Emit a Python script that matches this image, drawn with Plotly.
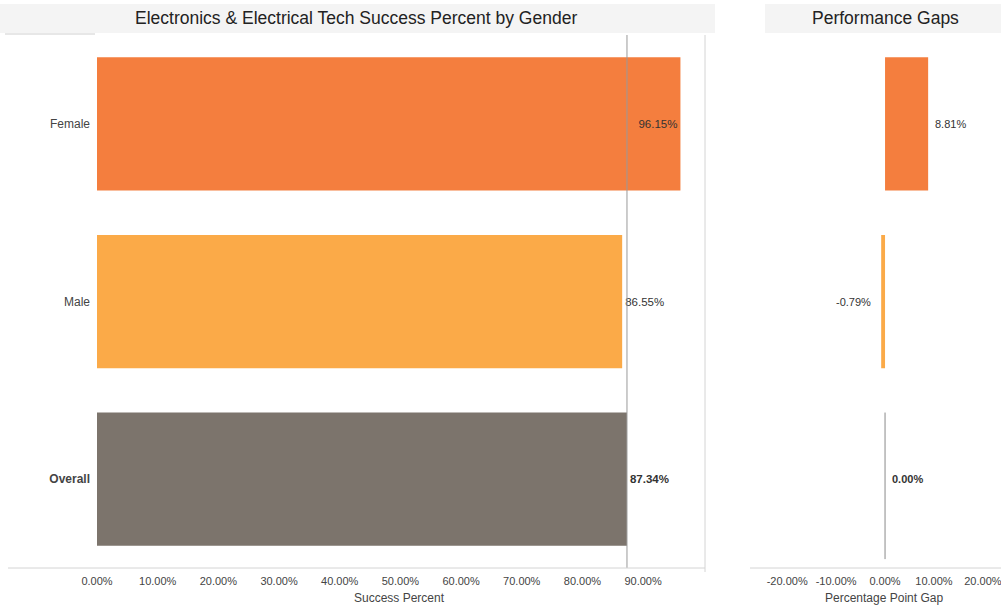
import plotly.graph_objects as go

# Success percent by gender (Electronics & Electrical Tech)
groups = ["Female", "Male", "Overall"]
success_pct = [96.15, 86.55, 87.34]
gap_pct = [8.81, -0.79, 0.00]
bar_colors = ["#F47E3E", "#FBAA48", "#7C746C"]

left_ticks = [0, 10, 20, 30, 40, 50, 60, 70, 80, 90]
right_ticks = [-20, -10, 0, 10, 20]

FONT = "Arial, Liberation Sans, sans-serif"
W, H = 1001, 607


def px(x):
    return x / W


def py(y):
    return 1 - y / H


def fmt(v):
    return f"{v:.2f}%"


def label(g, v):
    return f"<b>{fmt(v)}</b>" if g == "Overall" else fmt(v)


fig = go.Figure()

# Main bars: success percent
fig.add_trace(go.Bar(
    x=success_pct, y=groups, orientation="h",
    marker=dict(color=bar_colors, line=dict(width=0)),
    width=0.75,
    text=[label(g, v) for g, v in zip(groups, success_pct)],
    textposition=["inside", "outside", "outside"],
    insidetextanchor="end",
    textfont=dict(family=FONT, size=11.5, color="#333333"),
    cliponaxis=False,
    xaxis="x", yaxis="y", showlegend=False,
))

# Gap bars: percentage points vs overall
fig.add_trace(go.Bar(
    x=gap_pct, y=groups, orientation="h",
    marker=dict(color=bar_colors, line=dict(width=0)),
    width=0.75,
    xaxis="x2", yaxis="y2", showlegend=False,
))

# Gap value labels
for g, v in zip(groups, gap_pct):
    fig.add_annotation(
        x=v, y=g, xref="x2", yref="y2",
        text=label(g, v), showarrow=False,
        xanchor="right" if v < 0 else "left",
        xshift=-8 if v < 0 else 5,
        font=dict(family=FONT, size=11, color="#333333"),
    )

# Reference line at the overall success percent
overall = success_pct[groups.index("Overall")]
fig.add_shape(type="line", xref="x", yref="y domain",
              x0=overall, x1=overall, y0=0, y1=1,
              line=dict(color="#9a9a9a", width=1))

# Zero mark for the overall gap
oi = groups.index("Overall")
zero = gap_pct[oi]
fig.add_shape(type="line", xref="x2", yref="y2",
              x0=zero, x1=zero, y0=oi - 0.375, y1=oi + 0.45,
              line=dict(color="#8a8a8a", width=1))

# Panel border and axis baselines
fig.add_shape(type="line", xref="paper", yref="paper",
              x0=px(705), x1=px(705), y0=py(572), y1=py(35),
              line=dict(color="#d4d4d4", width=1))
fig.add_shape(type="line", xref="paper", yref="paper",
              x0=px(8), x1=px(705), y0=py(568), y1=py(568),
              line=dict(color="#d4d4d4", width=1))
fig.add_shape(type="line", xref="paper", yref="paper",
              x0=px(750), x1=1, y0=py(568), y1=py(568),
              line=dict(color="#d4d4d4", width=1))

# Title header bands
fig.add_shape(type="rect", xref="paper", yref="paper", layer="below",
              x0=0, x1=px(715), y0=py(33), y1=py(4),
              fillcolor="#f4f4f4", line=dict(width=0))
fig.add_shape(type="rect", xref="paper", yref="paper", layer="below",
              x0=px(765), x1=1, y0=py(33), y1=py(4),
              fillcolor="#f4f4f4", line=dict(width=0))
fig.add_shape(type="line", xref="paper", yref="paper",
              x0=px(5), x1=px(95), y0=py(34), y1=py(34),
              line=dict(color="#cfcfcf", width=1))

# Titles
fig.add_annotation(x=px(356), y=py(18), xref="paper", yref="paper",
                   xanchor="center", yanchor="middle",
                   text="Electronics & Electrical Tech Success Percent by Gender",
                   showarrow=False, font=dict(family=FONT, size=17.5, color="#222222"))
fig.add_annotation(x=px(885), y=py(18), xref="paper", yref="paper",
                   xanchor="center", yanchor="middle",
                   text="Performance Gaps", showarrow=False,
                   font=dict(family=FONT, size=17.5, color="#222222"))

# Axis titles
fig.add_annotation(x=px(399), y=py(598), xref="paper", yref="paper",
                   xanchor="center", yanchor="middle",
                   text="Success Percent", showarrow=False,
                   font=dict(family=FONT, size=12, color="#444444"))
fig.add_annotation(x=px(884), y=py(598), xref="paper", yref="paper",
                   xanchor="center", yanchor="middle",
                   text="Percentage Point Gap", showarrow=False,
                   font=dict(family=FONT, size=12, color="#444444"))

xtickfont = dict(family=FONT, size=11, color="#444444")
ytickfont = dict(family=FONT, size=12, color="#444444")

fig.update_layout(
    width=W, height=H,
    margin=dict(l=0, r=0, t=0, b=0, autoexpand=False),
    paper_bgcolor="white", plot_bgcolor="white",
    bargap=0.25,
    xaxis=dict(domain=[px(97), px(705)], range=[0, 100.2],
               tickvals=left_ticks, ticktext=[fmt(v) for v in left_ticks],
               tickfont=xtickfont, showgrid=False, zeroline=False,
               showline=False, ticks="", fixedrange=True,
               automargin=False, ticklabelstandoff=5,
               ticklabeloverflow="allow"),
    yaxis=dict(domain=[py(568), py(35)], categoryorder="array",
               categoryarray=groups, autorange="reversed",
               tickvals=groups,
               ticktext=["<b>Overall</b>" if g == "Overall" else g for g in groups],
               tickfont=ytickfont, showgrid=False, zeroline=False,
               showline=False, ticks="", ticklabelstandoff=6,
               automargin=False),
    xaxis2=dict(domain=[px(750), 1], range=[-27.6, 23.7], anchor="y2",
                tickvals=right_ticks, ticktext=[fmt(v) for v in right_ticks],
                tickfont=xtickfont, showgrid=False, zeroline=False,
                showline=False, ticks="", automargin=False,
                ticklabelstandoff=5, ticklabeloverflow="allow"),
    yaxis2=dict(domain=[py(568), py(35)], anchor="x2", categoryorder="array",
                categoryarray=groups, autorange="reversed",
                showticklabels=False, showgrid=False, zeroline=False,
                showline=False, ticks="", automargin=False),
)

fig.write_html("out.html")
